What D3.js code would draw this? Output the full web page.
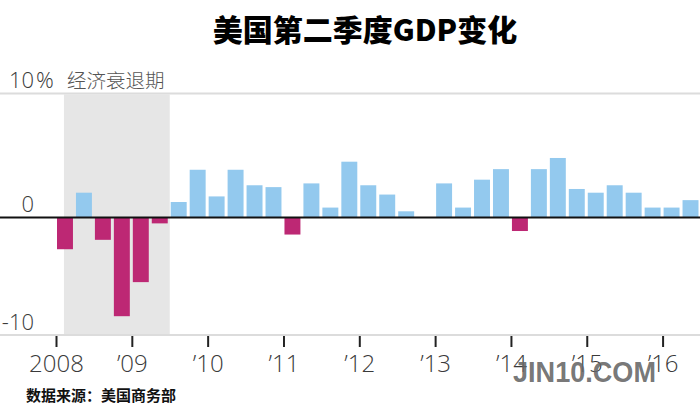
<!DOCTYPE html>
<html><head><meta charset="utf-8">
<script src="https://cdn.jsdelivr.net/npm/d3@7"></script>
<style>
html,body{margin:0;padding:0;background:#fff;}
svg{display:block;}
</style></head>
<body>
<svg id="chart" width="700" height="412"></svg>
<script>
// ---- data ----
const quarters = d3.range(34).map(i => 2008 + i / 4);
const gdpChange = [
  -2.7, 2.0, -1.9, -8.4,
  -5.5, -0.5, 1.25, 3.85,
  1.7, 3.85, 2.6, 2.45,
  -1.45, 2.75, 0.8, 4.5,
  2.6, 1.85, 0.5, 0.0,
  2.75, 0.8, 3.05, 3.9,
  -1.15, 3.9, 4.8, 2.3,
  2.0, 2.6, 2.0, 0.8,
  0.8, 1.4
];
const yearTicks = [2008, 2009, 2010, 2011, 2012, 2013, 2014, 2015, 2016];
const yearLabels = ["2008", "\u201909", "\u201910", "\u201911", "\u201912", "\u201913", "\u201914", "\u201915", "\u201916"];
const yTicks = [-10, 0, 10];
const recession = [2008.105, 2009.5];
const titleText = "美国第二季度GDP变化";
const recessionLabel = "经济衰退期";
const sourceText = "数据来源：美国商务部";

// ---- scales ----
const svg = d3.select("#chart");
const x = d3.scaleLinear().domain([2008, 2016.5]).range([56, 700.5]);
const y = d3.scaleLinear().domain([-10, 0, 10]).range([335, 217.5, 93.5]);
const numFont = "'Open Sans', Lato, sans-serif";
const cjk = "'Noto Sans CJK SC', sans-serif";

// recession shading
svg.append("rect")
  .attr("x", x(recession[0])).attr("width", x(recession[1]) - x(recession[0]))
  .attr("y", y(10) + 1).attr("height", y(-10) - y(10) - 1)
  .attr("fill", "#e6e6e6");

// gridlines top & bottom
svg.append("g").selectAll("line").data([10, -10]).join("line")
  .attr("x1", 0).attr("x2", 700)
  .attr("y1", d => y(d)).attr("y2", d => y(d))
  .attr("stroke", "#dcdcdc").attr("stroke-width", 2);

// bars
const step = x(2008.25) - x(2008);
svg.append("g").selectAll("rect").data(gdpChange).join("rect")
  .attr("x", (d, i) => x(quarters[i]) + 1)
  .attr("width", step - 3)
  .attr("y", d => d >= 0 ? y(d) : y(0))
  .attr("height", d => Math.abs(y(d) - y(0)))
  .attr("fill", d => d >= 0 ? "#93c9ee" : "#bd2874");

// zero line
svg.append("line")
  .attr("x1", 0).attr("x2", 700).attr("y1", y(0)).attr("y2", y(0))
  .attr("stroke", "#111").attr("stroke-width", 2);

// x axis
const xAxis = d3.axisBottom(x)
  .tickValues(yearTicks)
  .tickSize(11)
  .tickFormat((d, i) => yearLabels[i]);
const gx = svg.append("g").attr("transform", `translate(0,${y(-10) + 1})`).call(xAxis);
gx.select(".domain").remove();
gx.selectAll(".tick line").attr("stroke", "#222").attr("stroke-width", 2);
gx.selectAll(".tick text")
  .attr("y", 36).attr("dy", 0)
  .attr("font-family", numFont).attr("font-weight", 300)
  .attr("font-size", 24).attr("fill", "#3a3a3a");

// y labels
const gy = svg.append("g");
gy.selectAll("text").data(yTicks).join("text")
  .attr("x", 34).attr("y", d => y(d) - 5.5)
  .attr("text-anchor", "end")
  .attr("font-family", numFont).attr("font-weight", 300)
  .attr("font-size", 22).attr("fill", "#3a3a3a")
  .text(d => d);
gy.append("text")
  .attr("x", 36).attr("y", y(10) - 5.5)
  .attr("font-family", numFont).attr("font-weight", 300)
  .attr("font-size", 22).attr("fill", "#3a3a3a").text("%");
gy.append("text")
  .attr("x", 67).attr("y", y(10) - 6)
  .attr("font-family", cjk).attr("font-weight", 300)
  .attr("font-size", 19.5).attr("fill", "#555").text(recessionLabel);

// title
svg.append("text")
  .attr("x", 365).attr("y", 41).attr("text-anchor", "middle")
  .attr("font-family", cjk).attr("font-weight", 900)
  .attr("font-size", 30).attr("fill", "#000").text(titleText);

// source
svg.append("text")
  .attr("x", 26).attr("y", 401)
  .attr("font-family", cjk).attr("font-weight", 700)
  .attr("font-size", 15).attr("fill", "#111").text(sourceText);

// watermark
svg.append("text")
  .attr("x", 513).attr("y", 382)
  .attr("font-family", "'Liberation Sans', Arial, sans-serif").attr("font-weight", 700)
  .attr("font-size", 29).attr("fill", "#666").attr("fill-opacity", 0.9)
  .attr("textLength", 143).attr("lengthAdjust", "spacingAndGlyphs")
  .text("JIN10.COM");
</script>
</body></html>
